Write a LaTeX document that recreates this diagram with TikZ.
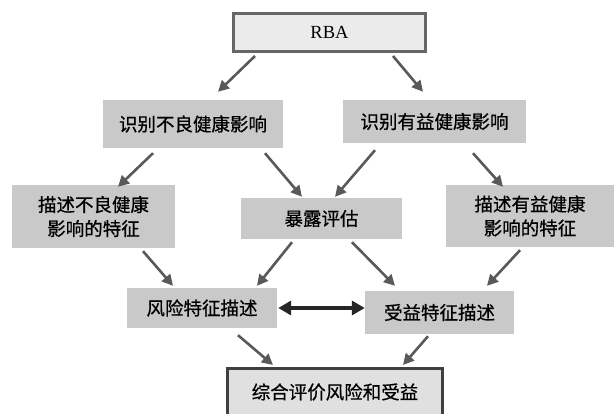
\documentclass[tikz,border=0pt]{standalone}
\usepackage{fontspec}
\setmainfont{Noto Sans CJK SC}[FakeBold=0.7]
\newfontfamily\rbafont{Liberation Serif}
\usetikzlibrary{arrows.meta}
\definecolor{boxgray}{HTML}{C9C9C9}
\definecolor{palegray}{HTML}{EBEBEB}
\definecolor{edgegray}{HTML}{666666}
\definecolor{arrowgray}{HTML}{595959}
\newcommand{\cnsize}{\fontsize{18.5}{24}\selectfont}
\tikzstyle{arrow} = [line width=2.6pt,draw=arrowgray,-{Triangle[length=11pt,width=11pt,fill=arrowgray]}]

\begin{document}
\begin{tikzpicture}
        [
            x=1pt,y=-1pt,
            box/.style={rectangle,fill=boxgray,inner sep=0pt,align=center,font=\cnsize},
            endbox/.style={box,fill=palegray,draw=edgegray,line width=3pt},
        ]
    \clip (0,0) rectangle (616,414);

    \node[endbox,minimum width=192pt,minimum height=38pt] (rba) at (329.5,32.5) {\rbafont RBA};
    \node[box,minimum width=180pt,minimum height=48pt] (idbad) at (193,124) {识别不良健康影响};
    \node[box,minimum width=183pt,minimum height=43pt] (idgood) at (434.5,121.5) {识别有益健康影响};
    \node[box,minimum width=163pt,minimum height=63pt] (descbad) at (93.5,216.5) {描述不良健康\\影响的特征};
    \node[box,minimum width=161pt,minimum height=41pt] (expo) at (321.5,218.5) {暴露评估};
    \node[box,minimum width=168pt,minimum height=62pt] (descgood) at (530,216) {描述有益健康\\影响的特征};
    \node[box,minimum width=150pt,minimum height=40pt] (risk) at (202,308) {风险特征描述};
    \node[box,minimum width=149pt,minimum height=43pt] (benefit) at (439.5,312.5) {受益特征描述};
    \node[endbox,draw=black!75,fill=palegray!90!gray,minimum width=215pt,minimum height=47pt] (overall) at (335,392) {综合评价风险和受益};

    \draw[arrow] ([xshift=-74.5pt,yshift=-3pt]rba.south) -- ([xshift=25pt,yshift=8pt]idbad.north);
    \draw[arrow] ([xshift=63.5pt,yshift=-3pt]rba.south) -- ([xshift=-11.5pt,yshift=8pt]idgood.north);
    \draw[arrow] ([xshift=-40pt,yshift=-5pt]idbad.south) -- ([xshift=24.5pt,yshift=-2pt]descbad.north);
    \draw[arrow] ([xshift=72pt,yshift=-5pt]idbad.south) -- ([xshift=-19.5pt,yshift=1pt]expo.north);
    \draw[arrow] ([xshift=-59.5pt,yshift=-7pt]idgood.south) -- ([xshift=13.5pt,yshift=1pt]expo.north);
    \draw[arrow] ([xshift=38.5pt,yshift=-10pt]idgood.south) -- ([xshift=-27pt,yshift=-2pt]descgood.north);
    \draw[arrow] ([xshift=49.5pt,yshift=-3pt]descbad.south) -- ([xshift=-29pt,yshift=2pt]risk.north);
    \draw[arrow] ([xshift=-29.5pt,yshift=-3pt]expo.south) -- ([xshift=55pt,yshift=2pt]risk.north);
    \draw[arrow] ([xshift=30.5pt,yshift=-3pt]expo.south) -- ([xshift=-44.5pt,yshift=5pt]benefit.north);
    \draw[arrow] ([xshift=-10pt,yshift=-3pt]descgood.south) -- ([xshift=47.5pt,yshift=5pt]benefit.north);
    \draw[arrow] ([xshift=36pt,yshift=-7pt]risk.south) -- ([xshift=-62pt,yshift=2pt]overall.north);
    \draw[arrow] ([xshift=-11.5pt,yshift=-2pt]benefit.south) -- ([xshift=68pt,yshift=2pt]overall.north);
    \draw[line width=4pt,draw=black!85,{Triangle[length=13pt,width=14pt]}-{Triangle[length=13pt,width=14pt]}]
        ([xshift=1pt]risk.east) -- ([yshift=4.5pt]benefit.west);
    \end{tikzpicture}
\end{document}
